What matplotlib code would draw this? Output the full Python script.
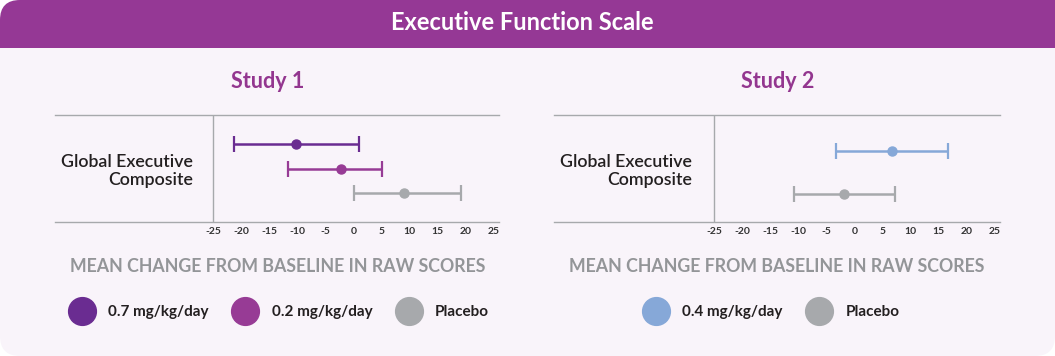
import matplotlib.pyplot as plt
from matplotlib.patches import FancyBboxPatch, Rectangle
from matplotlib.lines import Line2D

# data
s1_labels = ["0.7 mg/kg/day", "0.2 mg/kg/day", "Placebo"]
s1_mean = [-10.2, -2.2, 9.0]
s1_low = [-21.3, -11.7, 0.1]
s1_high = [0.9, 5.0, 19.1]
s1_colors = ["#6a2c91", "#973b95", "#a7a9ac"]

s2_labels = ["0.4 mg/kg/day", "Placebo"]
s2_mean = [6.6, -1.9]
s2_low = [-3.4, -10.8]
s2_high = [16.7, 7.2]
s2_colors = ["#86a8d8", "#a7a9ac"]

ticks = [-25, -20, -15, -10, -5, 0, 5, 10, 15, 20, 25]
row_label = "Global Executive\nComposite"
xlabel = "MEAN CHANGE FROM BASELINE IN RAW SCORES"

W, H = 1055, 356
BG = "#f9f4fa"
PURPLE = "#953895"
GRID = "#a7a9ac"
FONT = "Lato"

fig = plt.figure(figsize=(W / 100, H / 100), dpi=100)
fig.patch.set_facecolor("white")

# background card, pixel coords
bg = fig.add_axes([0, 0, 1, 1])
bg.set_xlim(0, W)
bg.set_ylim(H, 0)
bg.axis("off")
bg.add_patch(FancyBboxPatch((0, 0), W, H, boxstyle="round,pad=0,rounding_size=20",
                            fc=BG, ec="none"))
bg.add_patch(FancyBboxPatch((0, 0), W, 48, boxstyle="round,pad=0,rounding_size=20",
                            fc=PURPLE, ec="none"))
bg.add_patch(Rectangle((0, 25), W, 23, fc=PURPLE, ec="none"))
bg.add_patch(Rectangle((1000, 0), 55, 48, fc=PURPLE, ec="none"))
bg.text(522, 23, "Executive Function Scale", color="white", fontsize=17,
        fontweight="bold", family=FONT, ha="center", va="center")


def px_axes(x0, x1, y0, y1):
    return fig.add_axes([x0 / W, 1 - y1 / H, (x1 - x0) / W, (y1 - y0) / H])


def study(x0, x1, xm25, x25, title, labels, mean, low, high, colors, ylim,
          cx, xlab_x, leg_x):
    ax = px_axes(x0, x1, 115.3, 221.7)
    ax.set_facecolor("none")
    ppu = (x25 - xm25) / 50.0
    ax.set_xlim(-25 - (xm25 - x0) / ppu, 25 + (x1 - x25) / ppu)
    ax.set_ylim(*ylim)
    for i in range(len(mean)):
        ax.errorbar(mean[i], i, xerr=[[mean[i] - low[i]], [high[i] - mean[i]]],
                    fmt="o", color=colors[i], ms=6.5, elinewidth=1.8,
                    capsize=6, capthick=1.6)
    ax.axvline(-25, color=GRID, lw=1)
    for s in ["left", "right"]:
        ax.spines[s].set_visible(False)
    for s in ["top", "bottom"]:
        ax.spines[s].set_color(GRID)
        ax.spines[s].set_linewidth(1)
    ax.set_yticks([])
    ax.set_xticks(ticks)
    ax.set_xticklabels([str(t) for t in ticks], fontsize=7.5, fontweight="bold",
                       family=FONT, color="#333333")
    ax.tick_params(axis="x", length=0, pad=3.5)

    bg.text(cx, 81, title, color="#93368f", fontsize=15.5, fontweight="bold",
            family=FONT, ha="center", va="center")
    bg.text(x0 + 138, 171, row_label, color="#231f20", fontsize=12.8,
            fontweight="semibold", family=FONT, ha="right", va="center",
            linespacing=1.15)
    bg.text(xlab_x, 267, xlabel, color="#939598", fontsize=12.8,
            fontweight="bold", family=FONT, ha="center", va="center")

    handles = [Line2D([], [], ls="none", marker="o", ms=20, color=c) for c in colors]
    leg = fig.legend(handles, labels, loc="center", ncol=len(labels),
                     bbox_to_anchor=(leg_x / W, 1 - 312 / H), frameon=False,
                     handlelength=1.83, handletextpad=0.83, columnspacing=1.45,
                     prop={"family": FONT, "weight": "bold", "size": 11})
    for t in leg.get_texts():
        t.set_color("#231f20")
    return ax


study(55, 499, 213, 494, "Study 1", s1_labels, s1_mean, s1_low, s1_high,
      s1_colors, (3.152, -1.164), 268, 277.5, 278.5)
study(554, 1000, 714.3, 995, "Study 2", s2_labels, s2_mean, s2_low, s2_high,
      s2_colors, (1.656, -0.836), 778, 777, 770.5)

fig.savefig("out.png", dpi=100, facecolor=fig.get_facecolor())
